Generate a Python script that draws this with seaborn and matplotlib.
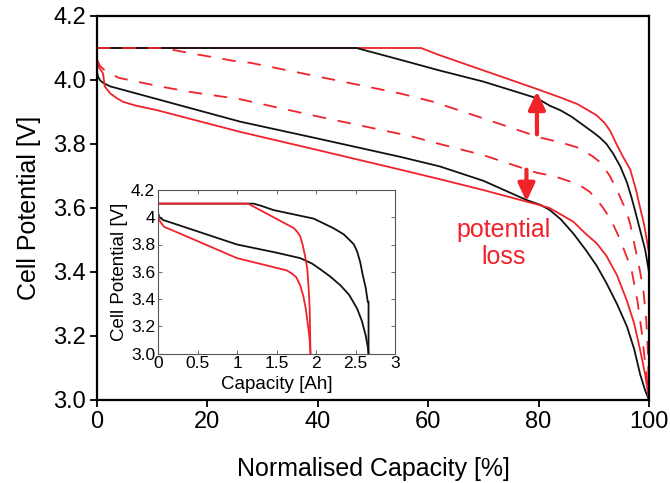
import matplotlib
matplotlib.use("Agg")
import matplotlib.pyplot as plt
import seaborn as sns
import numpy as np
import pandas as pd

# ---------------- data (main plot: normalised capacity %) ----------------
red_up_x = [0, 58.7, 62, 70, 80, 84, 87, 89, 90.5, 92, 93, 94.1, 95.3, 96.6, 97.6, 98.4,
            99.1, 99.6, 100, 100]
red_up_y = [4.1, 4.1, 4.078, 4.03, 3.97, 3.945, 3.925, 3.905, 3.89, 3.865, 3.84, 3.80, 3.76,
            3.72, 3.66, 3.60, 3.55, 3.50, 3.46, 3.0]

blk_up_x = [0, 47, 55, 62, 70, 79.7, 82, 84, 86, 88, 90, 91.1, 92.3, 93.5, 94.8, 96, 96.8,
            97.5, 98.4, 99.3, 100, 100]
blk_up_y = [4.1, 4.1, 4.063, 4.03, 3.995, 3.943, 3.92, 3.905, 3.885, 3.86, 3.835, 3.82, 3.80,
            3.77, 3.73, 3.68, 3.635, 3.59, 3.53, 3.47, 3.40, 3.0]

dash_up_x = [0, 12, 16.8, 24.7, 27.7, 40, 54.9, 60.9, 70, 80.3, 84, 86.9, 88.5, 89.9, 91,
             91.7, 92.9, 94.1, 95, 95.9, 96.6, 97.2, 97.8, 98.4, 99, 99.5, 99.8, 100]
dash_up_y = [4.1, 4.1, 4.084, 4.06, 4.054, 4.011, 3.958, 3.932, 3.88, 3.82, 3.805, 3.79, 3.775,
             3.76, 3.745, 3.73, 3.70, 3.66, 3.625, 3.59, 3.55, 3.50, 3.45, 3.40, 3.34, 3.25,
             3.15, 3.0]

dash_lo_x = [0, 0.5, 1.4, 3.9, 6.6, 11.7, 16.8, 25.9, 40, 56.7, 62.1, 70, 79.7, 82.7, 86.2,
             88, 89.3, 90.6, 91.7, 93.2, 94.8, 95.9, 96.8, 97.9, 98.7, 99.4, 100]
dash_lo_y = [4.065, 4.045, 4.03, 4.007, 3.997, 3.979, 3.963, 3.94, 3.886, 3.825, 3.80, 3.765,
             3.71, 3.70, 3.68, 3.665, 3.65, 3.625, 3.60, 3.56, 3.50, 3.45, 3.41, 3.31, 3.21,
             3.10, 3.0]

blk_lo_x = [0, 0.2, 0.6, 1.2, 2.4, 25.9, 40, 54.9, 62.1, 70, 77.8, 80.3, 82, 84, 86.3, 88.5,
            90.5, 92.3, 94.2, 96, 97.3, 98.4, 99.3, 100]
blk_lo_y = [4.025, 4.01, 3.998, 3.99, 3.98, 3.87, 3.817, 3.76, 3.73, 3.685, 3.625, 3.61, 3.594,
            3.565, 3.52, 3.47, 3.42, 3.365, 3.30, 3.23, 3.16, 3.08, 3.03, 3.0]

red_lo_x = [0, 0.2, 0.5, 1.1, 1.4, 2.4, 3.6, 4.7, 7, 10.8, 25.9, 40, 54.9, 62.1, 70, 77.8, 80,
            82, 84, 86.3, 88.5, 90.5, 92.3, 94.2, 96, 97.3, 98.4, 99.3, 100]
red_lo_y = [4.06, 4.045, 4.036, 4.02, 3.98, 3.958, 3.943, 3.932, 3.92, 3.906, 3.838, 3.781,
            3.72, 3.69, 3.656, 3.62, 3.61, 3.60, 3.58, 3.557, 3.52, 3.49, 3.45, 3.39, 3.31,
            3.24, 3.156, 3.08, 3.0]

# ---------------- data (inset: capacity Ah) ----------------
in_blk_up_x = [0, 1.21, 1.30, 1.46, 1.97, 2.22, 2.35, 2.43, 2.48, 2.52, 2.56, 2.59, 2.63,
               2.655, 2.665, 2.665]
in_blk_up_y = [4.1, 4.1, 4.085, 4.053, 3.99, 3.92, 3.875, 3.83, 3.80, 3.75, 3.67, 3.58, 3.48,
               3.38, 3.38, 3.0]

in_blk_lo_x = [0, 0.02, 0.064, 0.3, 1.0, 1.5, 1.8, 1.95, 2.05, 2.18, 2.31, 2.42, 2.52, 2.58,
               2.63, 2.655, 2.665]
in_blk_lo_y = [4.03, 4.0, 3.98, 3.935, 3.80, 3.74, 3.70, 3.66, 3.62, 3.565, 3.50, 3.43, 3.33,
               3.24, 3.13, 3.05, 3.0]

in_red_up_x = [0, 1.14, 1.72, 1.76, 1.80, 1.83, 1.86, 1.89, 1.91, 1.92, 1.93]
in_red_up_y = [4.1, 4.1, 3.92, 3.895, 3.86, 3.80, 3.72, 3.62, 3.45, 3.33, 3.0]

in_red_lo_x = [0, 0.013, 0.076, 0.3, 1.0, 1.63, 1.70, 1.75, 1.80, 1.84, 1.87, 1.90, 1.92, 1.93]
in_red_lo_y = [4.03, 3.98, 3.93, 3.875, 3.70, 3.61, 3.585, 3.56, 3.50, 3.42, 3.33, 3.20, 3.10,
               3.0]

main_xticks = [0, 20, 40, 60, 80, 100]
main_yticks = [3.0, 3.2, 3.4, 3.6, 3.8, 4.0, 4.2]
main_yticklabels = ["3.0", "3.2", "3.4", "3.6", "3.8", "4.0", "4.2"]
in_xticks = [0, 0.5, 1, 1.5, 2, 2.5, 3]
in_xticklabels = ["0", "0.5", "1", "1.5", "2", "2.5", "3"]
in_yticks = [3.0, 3.2, 3.4, 3.6, 3.8, 4.0, 4.2]
in_yticklabels = ["3.0", "3.2", "3.4", "3.6", "3.8", "4", "4.2"]

# ---------------- style ----------------
sns.set_theme(style="white")
plt.rcParams["font.family"] = ["Liberation Sans", "DejaVu Sans"]

RED = "#f0222a"
BLACK = "#111111"
LW = 1.3
DASH = (0, (7.5, 6.5))

fig = plt.figure(figsize=(6.7, 4.83), dpi=100)
ax = fig.add_axes([97 / 670, 83 / 483, 552 / 670, 384 / 483])


def draw(axis, x, y, color, ls="-", lw=LW):
    sns.lineplot(x=x, y=y, ax=axis, color=color, sort=False, estimator=None,
                 linewidth=lw, linestyle=ls, solid_joinstyle="round",
                 dash_joinstyle="round")


draw(ax, red_up_x, red_up_y, RED)
draw(ax, blk_up_x, blk_up_y, BLACK)
draw(ax, dash_up_x, dash_up_y, RED, ls=DASH)
draw(ax, dash_lo_x, dash_lo_y, RED, ls=DASH)
draw(ax, blk_lo_x, blk_lo_y, BLACK)
draw(ax, red_lo_x, red_lo_y, RED)

ax.set_xlim(0, 100)
ax.set_ylim(3.0, 4.2)
ax.set_xticks(main_xticks)
ax.set_xticklabels([str(t) for t in main_xticks])
ax.set_yticks(main_yticks)
ax.set_yticklabels(main_yticklabels)
ax.tick_params(axis="both", direction="out", length=5, width=1.3, labelsize=17,
               color="black", labelcolor="black", pad=3,
               bottom=True, left=True, top=False, right=False)
for s in ax.spines.values():
    s.set_color("black")
    s.set_linewidth(1.6)
ax.set_xlabel("Normalised Capacity [%]", fontsize=18, labelpad=17, color="black")
ax.set_ylabel("Cell Potential [V]", fontsize=18, labelpad=9, color="black")

# arrows
ax.annotate("", xy=(79.7, 3.965), xytext=(79.7, 3.83),
            arrowprops=dict(arrowstyle="-|>,head_length=0.6,head_width=0.28",
                            mutation_scale=18, lw=3, color=RED,
                            shrinkA=0, shrinkB=0))
ax.annotate("", xy=(77.8, 3.62), xytext=(77.8, 3.72),
            arrowprops=dict(arrowstyle="-|>,head_length=0.6,head_width=0.28",
                            mutation_scale=18, lw=3, color=RED,
                            shrinkA=0, shrinkB=0))
ax.text(73.6, 3.49, "potential\nloss", color=RED, fontsize=18, ha="center",
        va="center", linespacing=1.15)

# ---------------- inset ----------------
ins = fig.add_axes([158 / 670, (483 - 353.5) / 483, 237 / 670, 163.5 / 483])
ins.set_facecolor("white")
draw(ins, in_blk_up_x, in_blk_up_y, BLACK)
draw(ins, in_blk_lo_x, in_blk_lo_y, BLACK)
draw(ins, in_red_up_x, in_red_up_y, RED)
draw(ins, in_red_lo_x, in_red_lo_y, RED)
ins.set_xlim(0, 3)
ins.set_ylim(3.0, 4.2)
ins.set_xticks(in_xticks)
ins.set_xticklabels(in_xticklabels)
ins.set_yticks(in_yticks)
ins.set_yticklabels(in_yticklabels)
ins.tick_params(axis="both", direction="in", length=3, width=0.6, labelsize=12.5,
                color="#555555", labelcolor="black", pad=2,
                bottom=True, left=True, top=True, right=True)
for s in ins.spines.values():
    s.set_color("#555555")
    s.set_linewidth(0.8)
ins.set_xlabel("Capacity [Ah]", fontsize=13.5, labelpad=3.5, color="black")
ins.set_ylabel("Cell Potential [V]", fontsize=13.5, labelpad=2, color="black")

fig.savefig("out.png", dpi=100)
